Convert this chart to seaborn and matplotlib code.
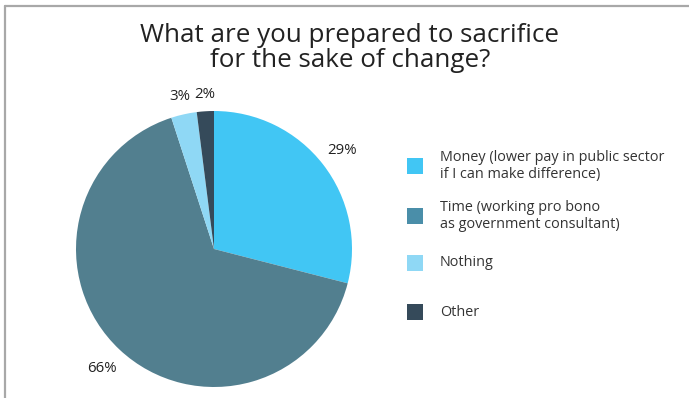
import matplotlib
matplotlib.use("Agg")
import numpy as np
import matplotlib.pyplot as plt
from matplotlib.lines import Line2D
from matplotlib.patches import Rectangle
import seaborn as sns

# Survey answers
categories = [
    "Money (lower pay in public sector\nif I can make difference)",
    "Time (working pro bono\nas government consultant)",
    "Nothing",
    "Other",
]
shares = [29, 66, 3, 2]

title = "What are you prepared to sacrifice\nfor the sake of change?"

wedge_colors = ["#41c6f4", "#527f8f", "#8fd8f5", "#354a5a"]
key_colors = ["#41c6f4", "#4a8ea9", "#8fd8f5", "#354a5a"]

sns.set_theme(style="white")
plt.rcParams["font.family"] = ["Open Sans", "DejaVu Sans"]

W, H = 689, 398
fig = plt.figure(figsize=(W / 100, H / 100), dpi=100)
fig.patch.set_facecolor("white")

# Pie axes: centre at (214, 249) px, radius 138 px
cx, cy, r = 214, 249, 138
ax = fig.add_axes([(cx - r) / W, (H - cy - r) / H, 2 * r / W, 2 * r / H])
wedges, _, pct_texts = ax.pie(
    shares,
    colors=wedge_colors,
    startangle=90,
    counterclock=False,
    radius=1.0,
    autopct=lambda p: f"{p:.0f}%",
    pctdistance=1.17,
    textprops=dict(fontsize=10.8, color="#222222"),
    wedgeprops=dict(linewidth=0),
)
# Thin slivers get their labels a little closer to the rim
label_dist = [1.17, 1.19, 1.13, 1.12]
for w, t, d in zip(wedges, pct_texts, label_dist):
    mid = np.deg2rad((w.theta1 + w.theta2) / 2)
    t.set_position((d * np.cos(mid), d * np.sin(mid)))

ax.set_xlim(-1, 1)
ax.set_ylim(-1, 1)
ax.set_aspect("equal")
ax.axis("off")

# Title
fig.text(350 / W, 1 - 48 / H, title, ha="center", va="center",
         fontsize=18.7, color="#222222", linespacing=1.0)

# Key on the right
row_y = [166, 216, 263, 312]
for label, col, y in zip(categories, key_colors, row_y):
    fig.add_artist(Rectangle((407 / W, 1 - (y + 8) / H), 16 / W, 16 / H,
                             transform=fig.transFigure, facecolor=col,
                             edgecolor="none"))
    fig.text(440 / W, 1 - y / H, label, ha="left", va="center",
             fontsize=10.4, color="#333333", linespacing=1.1)

# Frame lines along the top and left edges
line_kw = dict(color="#a8a8a8", linewidth=1.6, transform=fig.transFigure)
fig.add_artist(Line2D([5 / W, 1], [1 - 6 / H, 1 - 6 / H], **line_kw))
fig.add_artist(Line2D([5 / W, 5 / W], [0, 1 - 6 / H], **line_kw))

fig.savefig("out.png", dpi=100, facecolor="white")
